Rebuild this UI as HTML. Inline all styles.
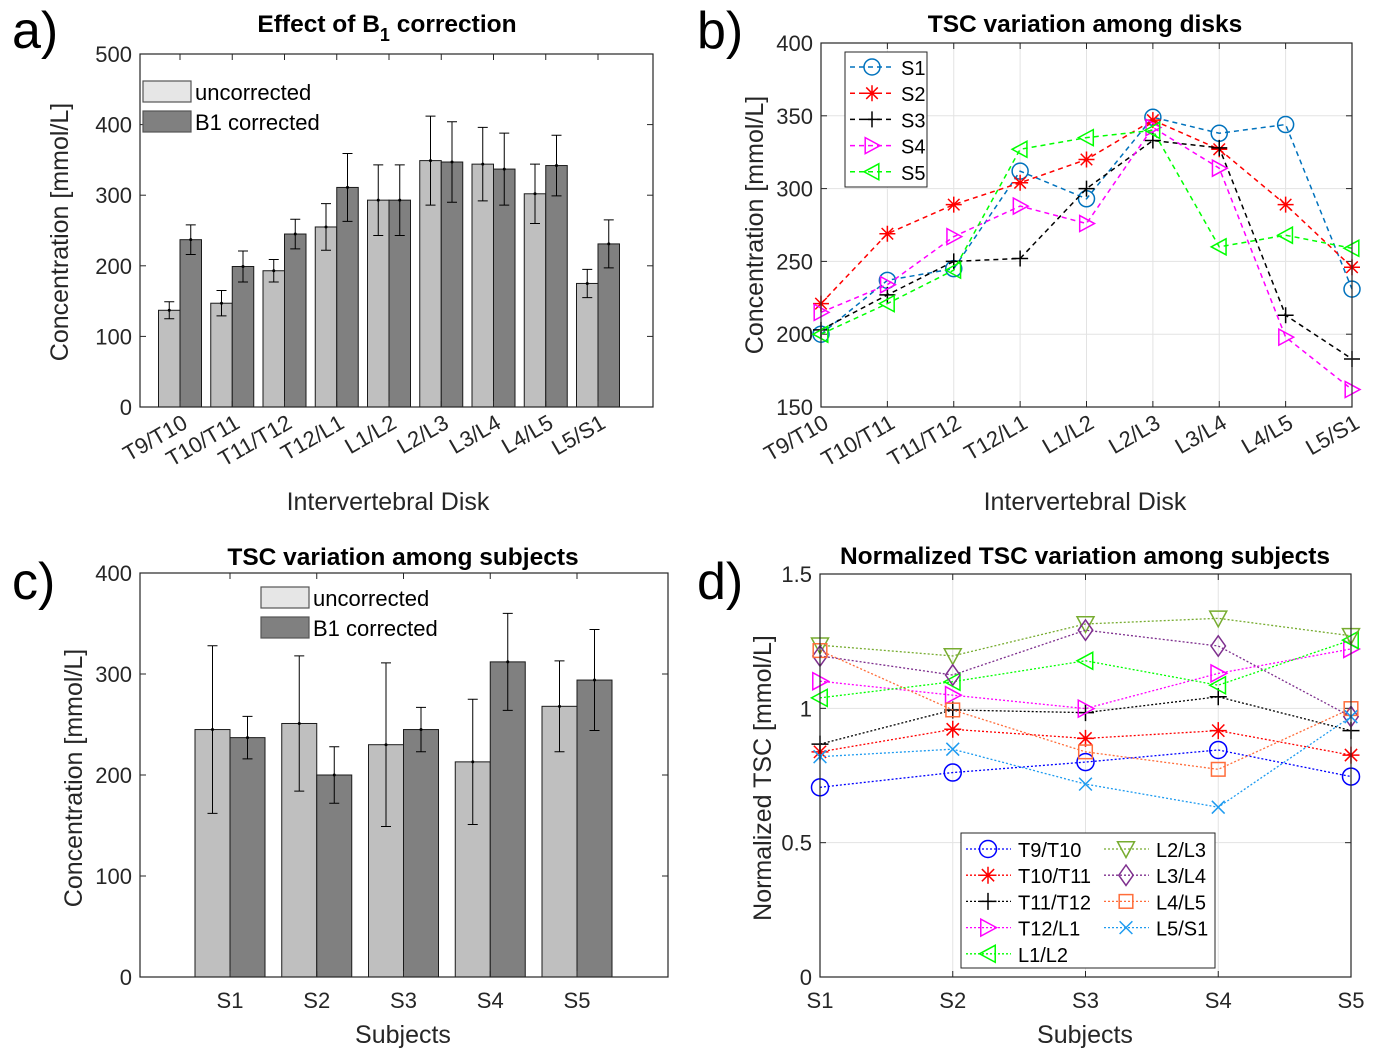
<!DOCTYPE html>
<html><head><meta charset="utf-8"><style>
html,body{margin:0;padding:0;background:#fff}
svg{display:block;font-family:"Liberation Sans",Arial,sans-serif}
</style></head><body>
<svg id="fig" width="1378" height="1060" viewBox="0 0 1378 1060" xmlns="http://www.w3.org/2000/svg">
<rect width="1378" height="1060" fill="#fff"/>
</svg>
<script>
// ---- Panel a data ----
const aCats = ["T9/T10","T10/T11","T11/T12","T12/L1","L1/L2","L2/L3","L3/L4","L4/L5","L5/S1"];
const aUncorr = [137,147,193,255,293,349,344,302,175];
const aUncorrErr = [12,18,16,33,50,63,52,42,20];
const aCorr = [237,199,245,311,293,347,337,342,231];
const aCorrErr = [21,22,21,48,50,57,51,43,34];
const aTicks = [0,100,200,300,400,500];
// ---- Panel b data ----
const bCats = aCats;
const bS1 = [200,237,245,312,293,349,338,344,231];
const bS2 = [221,269,289,304,320,347,327,289,246];
const bS3 = [203,227,250,252,300,333,328,213,183];
const bS4 = [215,234,267,288,276,342,314,198,162];
const bS5 = [200,221,244,327,335,340,260,268,259];
const bTicks = [150,200,250,300,350,400];
// ---- Panel c data ----
const cCats = ["S1","S2","S3","S4","S5"];
const cUncorr = [245,251,230,213,268];
const cUncorrErr = [83,67,81,62,45];
const cCorr = [237,200,245,312,294];
const cCorrErr = [21,28,22,48,50];
const cTicks = [0,100,200,300,400];
// ---- Panel d data ----
const dCats = ["S1","S2","S3","S4","S5"];
const dT9T10 = [0.706,0.761,0.800,0.845,0.746];
const dT10T11 = [0.838,0.922,0.888,0.917,0.826];
const dT11T12 = [0.867,0.994,0.984,1.043,0.917];
const dT12L1 = [1.101,1.049,0.999,1.130,1.221];
const dL1L2 = [1.039,1.099,1.177,1.086,1.254];
const dL2L3 = [1.235,1.195,1.314,1.335,1.270];
const dL3L4 = [1.195,1.124,1.291,1.232,0.969];
const dL4L5 = [1.215,0.994,0.838,0.773,0.999];
const dL5S1 = [0.820,0.848,0.718,0.632,0.969];
const dTicks = [0,0.5,1,1.5];
const dTickLabels = ["0","0.5","1","1.5"];

const NS="http://www.w3.org/2000/svg";
const svg=document.getElementById('fig');
function el(tag,attrs,parent,text){const e=document.createElementNS(NS,tag);for(const k in attrs)e.setAttribute(k,attrs[k]);if(text!==undefined)e.textContent=text;(parent||svg).appendChild(e);return e;}
function grp(name,parent){const g=el('g',{},parent);


return g;}

function marker(g,type,x,y,color,r){
  const s={fill:'none',stroke:color,'stroke-width':1.5};
  let m;
  if(type==='o'){m=el('circle',Object.assign({cx:x,cy:y,r:r},s),g);}
  else if(type==='+'){m=el('path',Object.assign({d:`M${x-r} ${y}H${x+r}M${x} ${y-r}V${y+r}`},s),g);}
  else if(type==='x'){const q=r*0.75;m=el('path',Object.assign({d:`M${x-q} ${y-q}L${x+q} ${y+q}M${x-q} ${y+q}L${x+q} ${y-q}`},s),g);}
  else if(type==='*'){const q=r*0.72;m=el('path',Object.assign({d:`M${x-r} ${y}H${x+r}M${x} ${y-r}V${y+r}M${x-q} ${y-q}L${x+q} ${y+q}M${x-q} ${y+q}L${x+q} ${y-q}`},s),g);}
  else if(type==='>'){m=el('path',Object.assign({d:`M${x-r*0.85} ${y-r}L${x+r} ${y}L${x-r*0.85} ${y+r}Z`},s),g);}
  else if(type==='<'){m=el('path',Object.assign({d:`M${x+r*0.85} ${y-r}L${x-r} ${y}L${x+r*0.85} ${y+r}Z`},s),g);}
  else if(type==='v'){m=el('path',Object.assign({d:`M${x-r} ${y-r*0.85}L${x+r} ${y-r*0.85}L${x} ${y+r}Z`},s),g);}
  else if(type==='d'){m=el('path',Object.assign({d:`M${x} ${y-r*1.2}L${x+r*0.85} ${y}L${x} ${y+r*1.2}L${x-r*0.85} ${y}Z`},s),g);}
  else if(type==='s'){const q=r*0.8;m=el('rect',Object.assign({x:x-q,y:y-q,width:2*q,height:2*q},s),g);}
  
  
}

function axesBox(g,L,T,R,B){
  el('rect',{x:L,y:T,width:R-L,height:B-T,fill:'none',stroke:'#262626','stroke-width':1.2},g);
}
function yAxis(g,ticks,labels,fy,L,R,grid,fs){
  ticks.forEach((t,i)=>{const y=fy(t);
    if(grid) el('line',{x1:L,x2:R,y1:y,y2:y,stroke:'#e3e3e3','stroke-width':1},g);
    el('line',{x1:L,x2:L+6,y1:y,y2:y,stroke:'#262626','stroke-width':1},g);
    el('line',{x1:R-6,x2:R,y1:y,y2:y,stroke:'#262626','stroke-width':1},g);
    const tx=el('text',{x:L-8,y:y+8,'text-anchor':'end','font-size':fs||22,fill:'#262626'},g,labels[i]);
    
    
  });
}
function title(x,y,txt,name){const t=el('text',{x:x,y:y,'text-anchor':'middle','font-size':24.5,'font-weight':'bold',fill:'#000'},svg,txt);


return t;}
function label(x,y,txt,name,rot){const t=el('text',{x:x,y:y,'text-anchor':'middle','font-size':25,fill:'#262626',transform:rot?`rotate(-90 ${x} ${y})`:''},svg,txt);


return t;}
function letter(x,y,txt,name){const t=el('text',{x:x,y:y,'font-size':52,fill:'#000'},svg,txt);

}
function errbar(g,x,y1,y2){
  el('path',{d:`M${x} ${y1}V${y2}M${x-5} ${y1}H${x+5}M${x-5} ${y2}H${x+5}`,stroke:'#000','stroke-width':1,fill:'none'},g);
  el('circle',{cx:x,cy:(y1+y2)/2,r:1.5,fill:'#000'},g);
}
function barPanel(name,L,T,R,B,ymax,c1,sp,bw,cats,v1,e1,v2,e2,ticks,rotLabels,legX,legY){
  const g=grp(name);
  const fy=v=>B-(v/ymax)*(B-T);
  const fx=i=>c1+i*sp;
  cats.forEach((c,i)=>{
    const cx=fx(i);
    const b1=el('rect',{x:cx-bw,y:fy(v1[i]),width:bw,height:B-fy(v1[i]),fill:'#bfbfbf',stroke:'#1a1a1a','stroke-width':1},g);
    
    
    const b2=el('rect',{x:cx,y:fy(v2[i]),width:bw,height:B-fy(v2[i]),fill:'#808080',stroke:'#1a1a1a','stroke-width':1},g);
    
    
    errbar(g,cx-bw/2,fy(v1[i]+e1[i]),fy(v1[i]-e1[i]));
    errbar(g,cx+bw/2,fy(v2[i]+e2[i]),fy(v2[i]-e2[i]));
    el('line',{x1:cx,x2:cx,y1:B,y2:B-6,stroke:'#262626'},g);
    el('line',{x1:cx,x2:cx,y1:T,y2:T+6,stroke:'#262626'},g);
    let t;
    if(rotLabels){t=el('text',{x:cx+9,y:B+20,'text-anchor':'end','font-size':22,fill:'#262626',transform:`rotate(-30 ${cx+9} ${B+20})`},g,c);}
    else{t=el('text',{x:cx,y:B+31,'text-anchor':'middle','font-size':22,fill:'#262626'},g,c);}
    
    
  });
  yAxis(g,ticks,ticks.map(String),fy,L,R,false,22);
  axesBox(g,L,T,R,B);
  const lg=grp('legend',g);
  el('rect',{x:legX,y:legY,width:48,height:21,fill:'#e6e6e6',stroke:'#555','stroke-width':1.2},lg);
  el('text',{x:legX+52,y:legY+19,'font-size':22,fill:'#000'},lg,'uncorrected');
  el('rect',{x:legX,y:legY+30,width:48,height:21,fill:'#808080',stroke:'#555','stroke-width':1.2},lg);
  el('text',{x:legX+52,y:legY+49,'font-size':22,fill:'#000'},lg,'B1 corrected');
}

// Panel a
barPanel('panel-a-chart',140,54,653,407,500,180,52.25,21.5,aCats,aUncorr,aUncorrErr,aCorr,aCorrErr,aTicks,true,143,81);
letter(12,48,'a)','panel-a-letter');
const ta=title(387,32,'Effect of B','panel-a-title');
el('tspan',{'font-size':18,dy:9},ta,'1');
el('tspan',{dy:-9},ta,' correction');
label(68,232,'Concentration [mmol/L]','panel-a-y-label',true);
label(388,510,'Intervertebral Disk','panel-a-x-label');

// Panel c
barPanel('panel-c-chart',140,573,668,977,400,230,86.75,35,cCats,cUncorr,cUncorrErr,cCorr,cCorrErr,cTicks,false,261,587);
letter(12,599,'c)','panel-c-letter');
title(403,565,'TSC variation among subjects','panel-c-title');
label(82,778,'Concentration [mmol/L]','panel-c-y-label',true);
label(403,1043,'Subjects','panel-c-x-label');

// Panel b
(function(){
  const L=821,T=43,R=1352,B=407;
  const g=grp('panel-b-chart');
  const fy=v=>B-(v-150)/250*(B-T);
  const fx=i=>L+i*(R-L)/8;
  bCats.forEach((c,i)=>{const x=fx(i);
    el('line',{x1:x,x2:x,y1:T,y2:B,stroke:'#e3e3e3'},g);
    el('line',{x1:x,x2:x,y1:B,y2:B-6,stroke:'#262626'},g);
    el('line',{x1:x,x2:x,y1:T,y2:T+6,stroke:'#262626'},g);
    const t=el('text',{x:x+9,y:B+20,'text-anchor':'end','font-size':22,fill:'#262626',transform:`rotate(-30 ${x+9} ${B+20})`},g,c);
    
    
  });
  yAxis(g,bTicks,bTicks.map(String),fy,L,R,true,22);
  const series=[[bS1,'#0072bd','o','S1'],[bS2,'#ff0000','*','S2'],[bS3,'#000000','+','S3'],[bS4,'#ff00ff','>','S4'],[bS5,'#00ff00','<','S5']];
  series.forEach(([vals,col,m,n])=>{
    const sg=grp('series-'+n.toLowerCase(),g);
    el('polyline',{points:vals.map((v,i)=>fx(i)+','+fy(v)).join(' '),fill:'none',stroke:col,'stroke-width':1.5,'stroke-dasharray':'5,4'},sg);
    vals.forEach((v,i)=>marker(sg,m,fx(i),fy(v),col,8));
  });
  axesBox(g,L,T,R,B);
  const lg=grp('legend',g);
  el('rect',{x:845,y:52,width:82,height:135,fill:'#fff',stroke:'#262626','stroke-width':1},lg);
  series.forEach(([vals,col,m,n],k)=>{const y=67+k*26.2;
    el('line',{x1:850,x2:893,y1:y,y2:y,stroke:col,'stroke-width':1.5,'stroke-dasharray':'5,4'},lg);
    marker(lg,m,872,y,col,8);
    el('text',{x:901,y:y+8,'font-size':20,fill:'#000'},lg,n);
  });
})();
letter(697,48,'b)','panel-b-letter');
title(1085,32,'TSC variation among disks','panel-b-title');
label(763,225,'Concentration [mmol/L]','panel-b-y-label',true);
label(1085,510,'Intervertebral Disk','panel-b-x-label');

// Panel d
(function(){
  const L=820,T=574,R=1351,B=977;
  const g=grp('panel-d-chart');
  const fy=v=>B-v/1.5*(B-T);
  const fx=i=>L+i*(R-L)/4;
  dCats.forEach((c,i)=>{const x=fx(i);
    el('line',{x1:x,x2:x,y1:T,y2:B,stroke:'#e3e3e3'},g);
    el('line',{x1:x,x2:x,y1:B,y2:B-6,stroke:'#262626'},g);
    el('line',{x1:x,x2:x,y1:T,y2:T+6,stroke:'#262626'},g);
    const t=el('text',{x:x,y:B+31,'text-anchor':'middle','font-size':22,fill:'#262626'},g,c);
    
    
  });
  yAxis(g,dTicks,dTickLabels,fy,L,R,true,22);
  const series=[[dT9T10,'#0000ff','o','T9/T10'],[dT10T11,'#ff0000','*','T10/T11'],[dT11T12,'#000000','+','T11/T12'],[dT12L1,'#ff00ff','>','T12/L1'],[dL1L2,'#00ff00','<','L1/L2'],[dL2L3,'#77ac30','v','L2/L3'],[dL3L4,'#7e2f8e','d','L3/L4'],[dL4L5,'#ff6d3a','s','L4/L5'],[dL5S1,'#1e9bf0','x','L5/S1']];
  series.forEach(([vals,col,m,n])=>{
    const sg=grp('series-'+n.toLowerCase().replace('/','-'),g);
    el('polyline',{points:vals.map((v,i)=>fx(i)+','+fy(v)).join(' '),fill:'none',stroke:col,'stroke-width':1.3,'stroke-dasharray':'2,2'},sg);
    vals.forEach((v,i)=>marker(sg,m,fx(i),fy(v),col,8.5));
  });
  axesBox(g,L,T,R,B);
  const lg=grp('legend',g);
  el('rect',{x:961,y:833,width:254,height:135,fill:'#fff',stroke:'#262626','stroke-width':1},lg);
  series.forEach(([vals,col,m,n],k)=>{
    const col2=k>=5?1:0, row=k>=5?k-5:k;
    const x0=col2?1104:966, y=849+row*26.2;
    el('line',{x1:x0,x2:x0+45,y1:y,y2:y,stroke:col,'stroke-width':1.3,'stroke-dasharray':'2,2'},lg);
    marker(lg,m,x0+22,y,col,8.5);
    el('text',{x:x0+52,y:y+8,'font-size':20,fill:'#000'},lg,n);
  });
})();
letter(697,599,'d)','panel-d-letter');
title(1085,564,'Normalized TSC variation among subjects','panel-d-title');
label(771,778,'Normalized TSC [mmol/L]','panel-d-y-label',true);
label(1085,1043,'Subjects','panel-d-x-label');
</script>
</body></html>
